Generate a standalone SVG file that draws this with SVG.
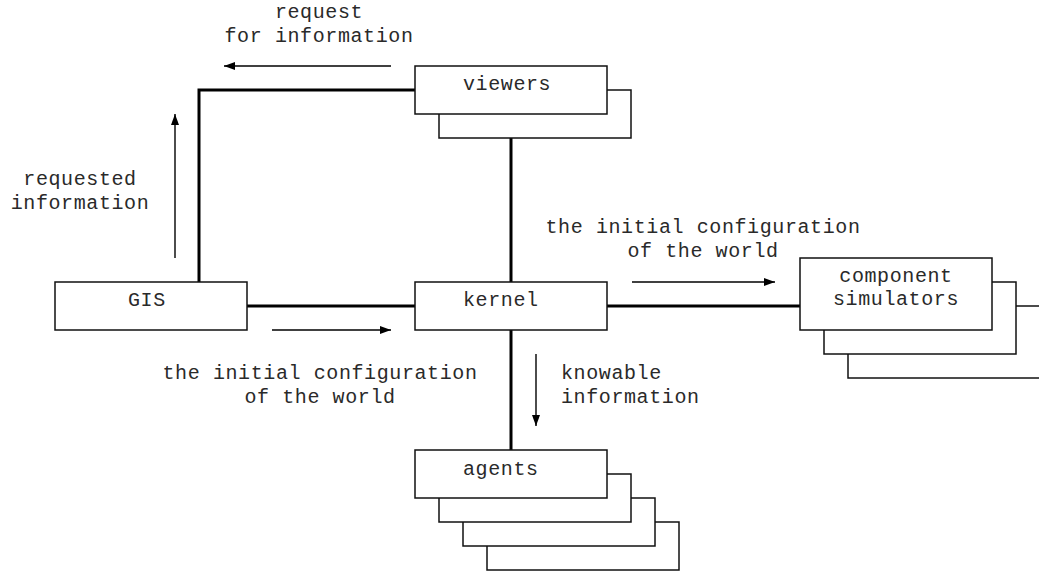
<svg xmlns="http://www.w3.org/2000/svg" width="1039" height="571" viewBox="0 0 1039 571">
<style>
  .box { fill: #fff; stroke: #111; stroke-width: 1.5; }
  .conn { fill: none; stroke: #000; stroke-width: 3; }
  .flow { fill: none; stroke: #000; stroke-width: 1.4; marker-end: url(#arr); }
  text { font-family: "Liberation Mono", "Courier New", monospace; font-size: 20px; letter-spacing: 0.6px; fill: #2a2a2a; }
  .c { text-anchor: middle; }
</style>
<defs>
  <marker id="arr" markerUnits="userSpaceOnUse" markerWidth="12" markerHeight="10" refX="11" refY="5" orient="auto">
    <path d="M0,1 L11,5 L0,9 z" fill="#000"/>
  </marker>
</defs>
<rect width="1039" height="571" fill="#fff"/>
<g id="connectors">
  <path class="conn" d="M415,90 H199 V282"/>
  <path class="conn" d="M511,138 V282"/>
  <path class="conn" d="M247,306 H415"/>
  <path class="conn" d="M607,306 H800"/>
  <path class="conn" d="M511,330 V450"/>
  <path class="flow" d="M391,66 H224"/>
  <path class="flow" d="M175,258 V114"/>
  <path class="flow" d="M272,330 H391"/>
  <path class="flow" d="M632,282 H775"/>
  <path class="flow" d="M536,354 V426"/>
</g>
<g id="labels">
  <text class="c" x="319" y="18">request</text>
  <text class="c" x="319" y="42">for information</text>
  <text class="c" x="80" y="185">requested</text>
  <text class="c" x="80" y="209">information</text>
  <text class="c" x="703" y="233">the initial configuration</text>
  <text class="c" x="703" y="257">of the world</text>
  <text class="c" x="320" y="379">the initial configuration</text>
  <text class="c" x="320" y="403">of the world</text>
  <text x="561" y="379">knowable</text>
  <text x="561" y="403">information</text>
</g>
<g id="viewers">
  <rect class="box" x="439" y="90" width="192" height="48"/>
  <rect class="box" x="415" y="66" width="192" height="48"/>
  <text x="463" y="90">viewers</text>
</g>
<g id="gis">
  <rect class="box" x="55" y="282" width="192" height="48"/>
  <text x="128" y="306">GIS</text>
</g>
<g id="kernel">
  <rect class="box" x="415" y="282" width="192" height="48"/>
  <text x="463" y="306">kernel</text>
</g>
<g id="component-simulators">
  <rect class="box" x="848" y="306" width="200" height="72"/>
  <rect class="box" x="824" y="282" width="192" height="72"/>
  <rect class="box" x="800" y="258" width="192" height="72"/>
  <text class="c" x="896" y="282">component</text>
  <text class="c" x="896" y="305">simulators</text>
</g>
<g id="agents">
  <rect class="box" x="487" y="522" width="192" height="48"/>
  <rect class="box" x="463" y="498" width="192" height="48"/>
  <rect class="box" x="439" y="474" width="192" height="48"/>
  <rect class="box" x="415" y="450" width="192" height="48"/>
  <text x="463" y="475">agents</text>
</g>
</svg>
